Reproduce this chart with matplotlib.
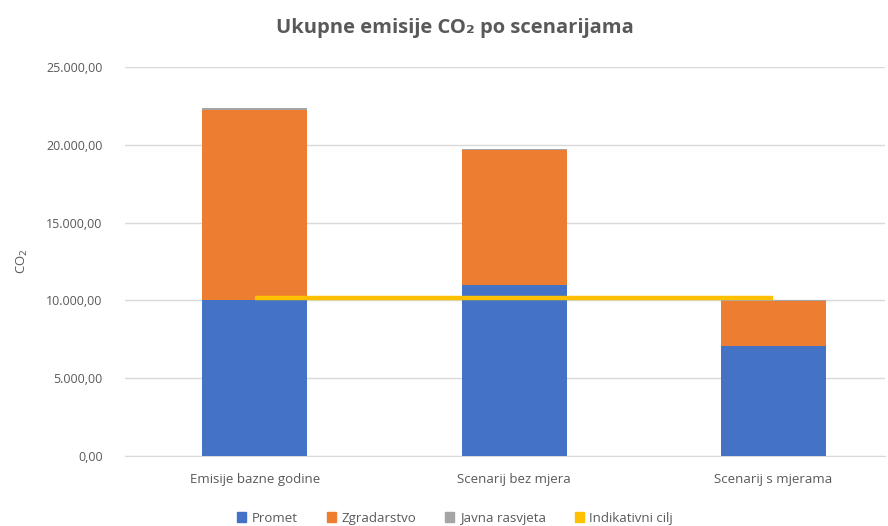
import matplotlib.pyplot as plt
from matplotlib.patches import Patch
import numpy as np

# Emisije CO2 po sektorima za svaki scenarij
scenariji = ['Emisije bazne godine', 'Scenarij bez mjera', 'Scenarij s mjerama']
promet = [10000, 11000, 7050]
zgradarstvo = [12250, 8650, 2900]
javna_rasvjeta = [110, 90, 60]
indikativni_cilj = [10150, 10150, 10150]

boje = {
    'Promet': '#4472C4',
    'Zgradarstvo': '#ED7D31',
    'Javna rasvjeta': '#A5A5A5',
    'Indikativni cilj': '#FFC000',
}

plt.rcParams['font.family'] = ['Open Sans', 'DejaVu Sans']

fig = plt.figure(figsize=(8.88, 5.26), dpi=100)
ax = fig.add_axes([125 / 888, 70 / 526, 760 / 888, 389 / 526])

x = np.arange(len(scenariji))
w = 0.405
dno = np.zeros(len(scenariji))
for naziv, vrijednosti in [('Promet', promet), ('Zgradarstvo', zgradarstvo),
                           ('Javna rasvjeta', javna_rasvjeta)]:
    ax.bar(x, vrijednosti, w, bottom=dno, color=boje[naziv], zorder=3)
    dno += np.array(vrijednosti)

ax.plot(x, indikativni_cilj, color=boje['Indikativni cilj'], lw=3.2,
        zorder=4, solid_capstyle='butt')

ax.set_xlim(-0.5, 2.43)
ax.set_ylim(0, 25000)
yt = np.arange(0, 25001, 5000)
ax.set_yticks(yt)
ax.set_yticklabels([f'{v:,.2f}'.replace(',', 'X').replace('.', ',').replace('X', '.')
                    for v in yt])
ax.set_xticks(x)
ax.set_xticklabels(scenariji)
ax.grid(axis='y', color='#D9D9D9', lw=1, zorder=0)
for s in ['top', 'right', 'left']:
    ax.spines[s].set_visible(False)
ax.spines['bottom'].set_color('#D9D9D9')
ax.tick_params(axis='y', length=0, pad=16, labelsize=9, labelcolor='#595959')
ax.tick_params(axis='x', length=0, pad=12, labelsize=9.5, labelcolor='#595959')
ax.set_ylabel('CO$_2$', fontsize=9.5, color='#595959', labelpad=12)

fig.suptitle('Ukupne emisije CO₂ po scenarijama', x=455 / 888, y=0.965,
             fontsize=14.5, fontweight='bold', color='#595959')

nazivi = list(boje.keys())
h = [Patch(color=boje[n]) for n in nazivi]
fig.legend(h, nazivi, loc='lower center', bbox_to_anchor=(455 / 888, -0.02), ncol=4,
           frameon=False, fontsize=9.5, handlelength=0.7, handleheight=0.7,
           handletextpad=0.4, columnspacing=2.2, labelcolor='#595959')

fig.savefig('out.png', dpi=100)
